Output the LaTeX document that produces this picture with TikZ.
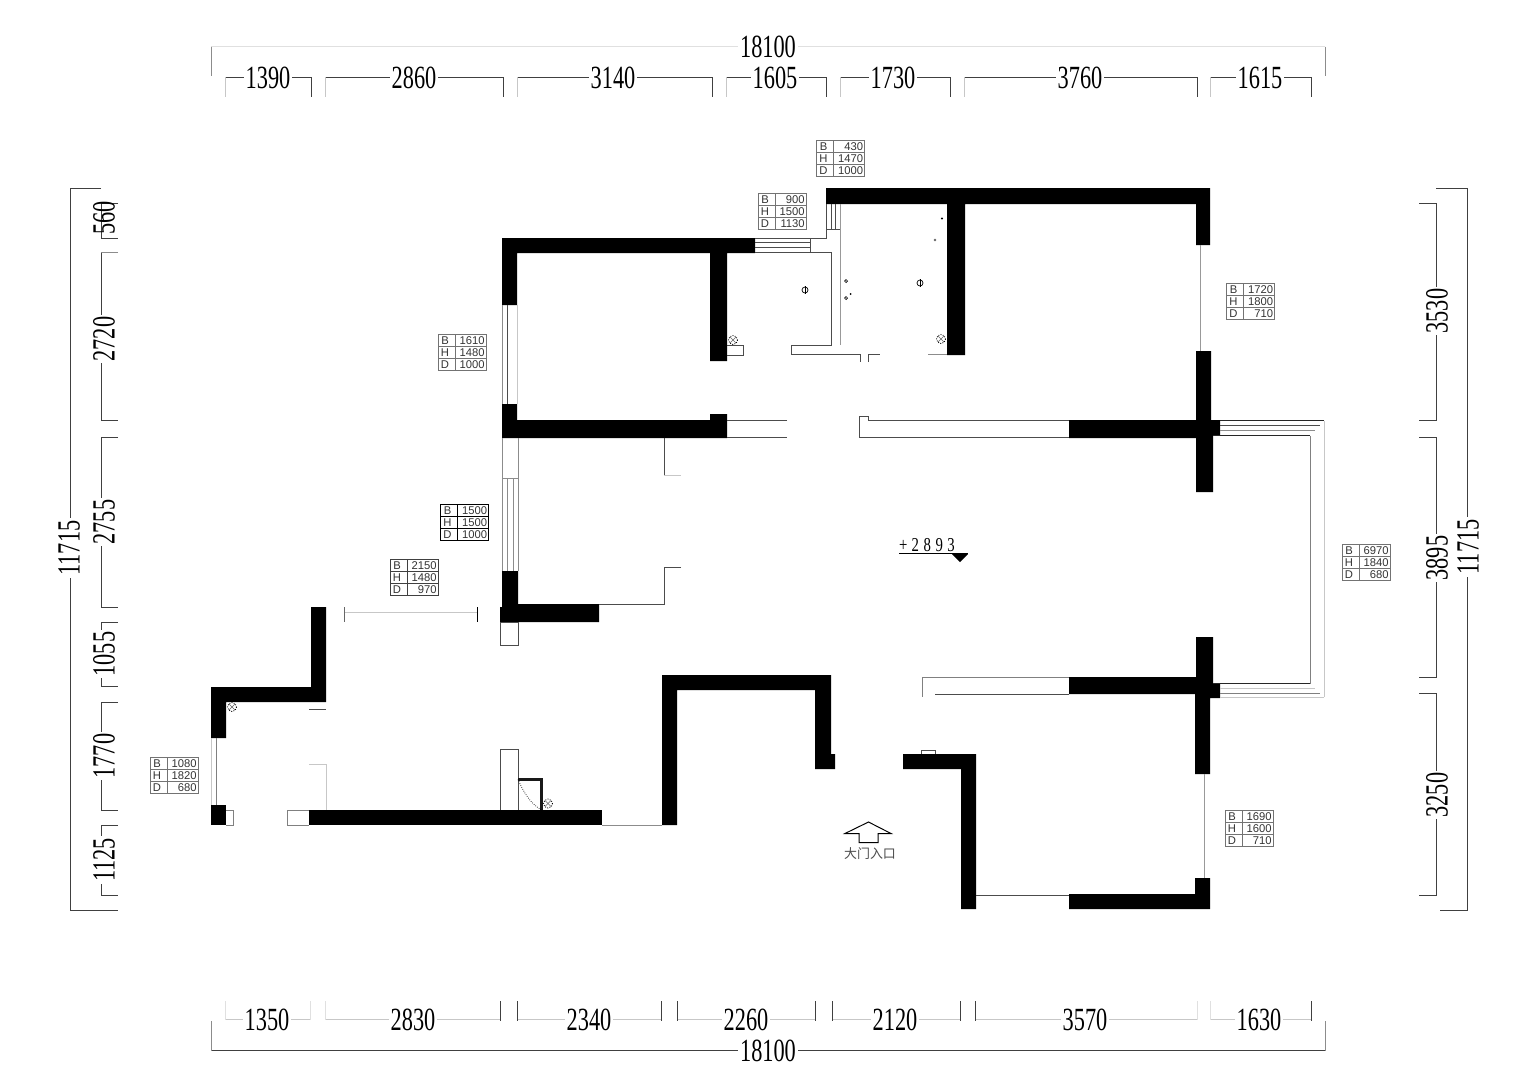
\documentclass[tikz,border=0pt]{standalone}
\usepackage{fontspec}
\usepackage{graphicx}
\setmainfont{Liberation Serif}
\setsansfont{Liberation Sans}
\newfontfamily\cjk{Noto Sans CJK SC}
\usetikzlibrary{arrows}
\newcommand{\dimfig}[1]{\scalebox{.69}[1]{#1}}
\newcommand{\wintable}[7][black!55]{%
	\begin{scope}[shift={(#3,#4)}]
		\draw [color=#1,line width=.55pt] (0,0) rectangle (48,36);
		\draw [color=#1,line width=.55pt] (0,12)-- (48,12);
		\draw [color=#1,line width=.55pt] (0,24)-- (48,24);
		\draw [color=#1,line width=.55pt] (17,0)-- (17,36);
		\node [tablabel] (#2b) at (7,6.5) {B};
		\node [tablabel] (#2h) at (7,18.5) {H};
		\node [tablabel] (#2d) at (7,30.5) {D};
		\node [tablabel,anchor=east] (#2bv) at (47,6.5) {#5};
		\node [tablabel,anchor=east] (#2hv) at (47,18.5) {#6};
		\node [tablabel,anchor=east] (#2dv) at (47,30.5) {#7};
	\end{scope}}
\tikzset{
	tablabel/.style={inner sep=0pt,color=black!80,font=\sffamily\fontsize{8}{8}\selectfont},
	dimlabel/.style={inner sep=1.5pt,fill=white,font=\fontsize{23}{23}\selectfont},
	dimline/.style={line width=.6pt,color=black!75},
	extline/.style={line width=.6pt,color=black!45},
	wall/.style={fill=black,draw=none},
	thin line/.style={line width=.7pt,color=black!70},
	pale line/.style={line width=.6pt,color=black!22}
}
\begin{document}
\begin{tikzpicture}[line cap=butt,line join=miter,x=0.025cm,y=-0.025cm]
	\useasboundingbox (0,0) rectangle (1528,1080);
	% walls
	\fill [wall] (502,238)-- (755,238)-- (755,253)-- (727,253)-- (727,361)-- (710,361)-- (710,253)-- (517,253)-- (517,305)-- (502,305)-- cycle;
	\fill [wall] (826,188)-- (1210,188)-- (1210,245)-- (1196,245)-- (1196,204)-- (965,204)-- (965,355)-- (947,355)-- (947,204)-- (826,204)-- cycle;
	\fill [wall] (502,404)-- (517,404)-- (517,420)-- (710,420)-- (710,414)-- (727,414)-- (727,438)-- (502,438)-- cycle;
	\fill [wall] (1196,351)-- (1211,351)-- (1211,420)-- (1220,420)-- (1220,435)-- (1213,435)-- (1213,492)-- (1196,492)-- (1196,438)-- (1069,438)-- (1069,420)-- (1196,420)-- cycle;
	\fill [wall] (1196,637)-- (1213,637)-- (1213,683)-- (1220,683)-- (1220,698)-- (1210,698)-- (1210,774)-- (1195,774)-- (1195,694)-- (1069,694)-- (1069,677)-- (1196,677)-- cycle;
	\fill [wall] (502,571)-- (518,571)-- (518,604)-- (599,604)-- (599,622)-- (500,622)-- (500,607)-- (502,607)-- cycle;
	\fill [wall] (311,607)-- (326,607)-- (326,702)-- (226,702)-- (226,738)-- (211,738)-- (211,687)-- (311,687)-- cycle;
	\fill [wall] (211,805) rectangle (226,825);
	\fill [wall] (309,810) rectangle (602,825);
	\fill [wall] (662,825)-- (662,675)-- (831,675)-- (831,754)-- (835,754)-- (835,769)-- (815,769)-- (815,690)-- (677,690)-- (677,825)-- cycle;
	\fill [wall] (903,754)-- (976,754)-- (976,909)-- (961,909)-- (961,769)-- (903,769)-- cycle;
	\fill [wall] (1069,894)-- (1195,894)-- (1195,878)-- (1210,878)-- (1210,909)-- (1069,909)-- cycle;
	% top entry and rooms
	\draw [thin line] (755,238)-- (826,238)-- (826,204);
	\draw [thin line] (755,242.5)-- (810,242.5);
	\draw [thin line] (755,247.5)-- (810,247.5);
	\draw [thin line] (810,238)-- (810,252);
	\draw [thin line] (755,252.5)-- (831,252.5)-- (831,345)-- (791,345)-- (791,354)-- (860,354)-- (860,362);
	\draw [thin line] (831,204)-- (831,229);
	\draw [thin line] (835.5,204)-- (835.5,229);
	\draw [thin line] (826,229)-- (840,229);
	\draw [line width=.6pt,color=black!40] (840,204)-- (840,345);
	\draw [thin line] (868,362)-- (868,354)-- (880,354);
	\draw [line width=.6pt,color=black!45] (928,354)-- (947,354);
	\draw [thin line] (727,345)-- (743,345)-- (743,355)-- (727,355);
	\draw [line width=.5pt] (805,290) circle (3);
	\draw [line width=.5pt] (805,286)-- (805,294);
	\draw [line width=.5pt] (920,283) circle (3);
	\draw [line width=.5pt] (920,279)-- (920,287);
	\draw [line width=.5pt] (846,281) circle (1.5);
	\draw [line width=.5pt] (846,298) circle (1.5);
	\fill (850.5,294) circle (1);
	\fill (942,218.5) circle (1.2);
	\fill [black!60] (935,240) circle (1.3);
	% windows on the left wall
	\draw [line width=.6pt,color=black!45] (502.5,305)-- (502.5,404);
	\draw [thin line] (507.5,305)-- (507.5,404);
	\draw [pale line] (517.5,305)-- (517.5,404);
	\draw [line width=.6pt,color=black!45] (502.5,438)-- (502.5,571);
	\draw [line width=.6pt,color=black!45] (518.5,438)-- (518.5,571);
	\draw [line width=.6pt,color=black!45] (502.5,478)-- (518.5,478);
	\draw [line width=.6pt,color=black!45] (507.5,478)-- (507.5,571);
	\draw [line width=.6pt,color=black!45] (513,478)-- (513,571);
	\draw [thin line] (500.5,622) rectangle (518,645);
	% partitions in the middle
	\draw [thin line] (664,438)-- (664,475.5);
	\draw [pale line] (664,475.5)-- (681,475.5);
	\draw [thin line] (681,567)-- (664,567)-- (664,604)-- (599,604);
	\draw [thin line] (787,420.5)-- (727,420.5);
	\draw [thin line] (727,437.5)-- (787,437.5);
	\draw [thin line] (1069,420.5)-- (868,420.5)-- (868,416)-- (859.5,416)-- (859.5,437.5)-- (1069,437.5);
	\draw [line width=.6pt,color=black!50] (1069,677.5)-- (922,677.5)-- (922,697);
	\draw [thin line] (935,694)-- (1069,694);
	\draw [thin line] (921,754)-- (921,750.5)-- (935,750.5)-- (935,754);
	% balcony
	\draw [line width=.7pt,color=black!85] (1220,420.5)-- (1324,420.5);
	\draw [thin line] (1220,425.5)-- (1320,425.5);
	\draw [line width=.6pt,color=black!45] (1220,430.5)-- (1315,430.5);
	\draw [line width=.7pt,color=black!85] (1213,435.5)-- (1310,435.5);
	\draw [line width=.7pt,color=black!50] (1310,435.5)-- (1310,683.5);
	\draw [line width=.7pt,color=black!85] (1310,683.5)-- (1213,683.5);
	\draw [pale line] (1220,688.5)-- (1315,688.5);
	\draw [line width=.6pt,color=black!50] (1220,693.5)-- (1320,693.5);
	\draw [pale line] (1324,420.5)-- (1324,697);
	\draw [pale line] (1220,697)-- (1324,697);
	% right side windows
	\draw [line width=.6pt,color=black!40] (1200.5,245)-- (1200.5,351);
	\draw [line width=.6pt,color=black!40] (1204.5,774)-- (1204.5,878);
	\draw [thin line] (976,895)-- (1069,895);
	% lower left
	\draw [line width=.6pt,color=black!45] (602,825)-- (662,825);
	\draw [pale line] (344,612)-- (477,612);
	\draw [line width=.6pt,color=black!60] (344,607)-- (344,622);
	\draw [line width=.7pt] (477.5,607)-- (477.5,622);
	\draw [thin line] (309,709.5)-- (326,709.5);
	\draw [pale line] (309,764.5)-- (326,764.5)-- (326,810);
	\draw [pale line] (211.5,738)-- (211.5,805);
	\draw [line width=.6pt,color=black!50] (216.5,738)-- (216.5,805);
	\draw [line width=.6pt,color=black!50] (226,810)-- (233,810)-- (233,825)-- (226,825);
	\draw [line width=.6pt,color=black!50] (309,810)-- (287.5,810)-- (287.5,825)-- (309,825);
	\draw [thin line] (500.5,810)-- (500.5,749.5)-- (518,749.5)-- (518,810);
	\draw [line width=1.6pt,color=black!90] (518,779.5)-- (541.5,779.5)-- (541.5,810);
	\draw [densely dotted,line width=.5pt] (518,779.5) .. controls (524,793) and (530,803) .. (541.5,810);
	% floor drains
	\draw [densely dotted,line width=.6pt] (232,707) circle (4.5);
	\draw [line width=.4pt,color=black!60] (229,704)-- (235,710);
	\draw [line width=.4pt,color=black!60] (229,710)-- (235,704);
	\draw [densely dotted,line width=.6pt] (548,803.5) circle (4.5);
	\draw [line width=.4pt,color=black!60] (545,800.5)-- (551,806.5);
	\draw [line width=.4pt,color=black!60] (545,806.5)-- (551,800.5);
	\draw [densely dotted,line width=.6pt] (733,340) circle (4.5);
	\draw [line width=.4pt,color=black!60] (730,337)-- (736,343);
	\draw [line width=.4pt,color=black!60] (730,343)-- (736,337);
	\draw [densely dotted,line width=.6pt] (941,339) circle (4.5);
	\draw [line width=.4pt,color=black!60] (938,336)-- (944,342);
	\draw [line width=.4pt,color=black!60] (938,342)-- (944,336);
	% entrance and level mark
	\draw [line width=.7pt] (868.5,822)-- (845,833.5)-- (859,833.5)-- (859,842.5)-- (878,842.5)-- (878,833.5)-- (891,833.5)-- cycle;
	\node [inner sep=0pt,color=black!70,font=\cjk\fontsize{9.2}{9.2}\selectfont] (entrance) at (870,854) {大门入口};
	\node [inner sep=0pt,font=\fontsize{14}{14}\selectfont] (level) at (927,545) {\scalebox{.75}[1]{+\kern4pt 2\kern4.3pt 8\kern4.3pt 9\kern4.3pt 3}};
	\draw [line width=.7pt] (899,553.5)-- (968,553.5);
	\fill (952,554)-- (968,554)-- (960,562)-- cycle;
	% window tables
	\wintable{wa}{816.5}{140}{430}{1470}{1000}
	\wintable{wb}{758}{193}{900}{1500}{1130}
	\wintable{wc}{438}{334}{1610}{1480}{1000}
	\wintable[black]{wd}{440.5}{504}{1500}{1500}{1000}
	\wintable[black!75]{we}{390}{559}{2150}{1480}{970}
	\wintable{wf}{1226.5}{283}{1720}{1800}{710}
	\wintable{wg}{1342}{544}{6970}{1840}{680}
	\wintable{wh}{1225}{810}{1690}{1600}{710}
	\wintable{wi}{150}{757}{1080}{1820}{680}
	% top dimensions
	\draw [line width=.6pt,color=black!12] (211,46.5)-- (1325,46.5);
	\draw [extline] (211,46.5)-- (211,76);
	\draw [extline] (1325,46.5)-- (1325,76);
	\node [dimlabel] (topall) at (768,47) {\dimfig{18100}};
	\draw [dimline] (225,77)-- (311,77)-- (311,97);
	\draw [pale line] (225,77)-- (225,97);
	\node [dimlabel] (topa) at (268,78) {\dimfig{1390}};
	\draw [dimline] (325,77)-- (503,77)-- (503,97);
	\draw [pale line] (325,77)-- (325,97);
	\node [dimlabel] (topb) at (414,78) {\dimfig{2860}};
	\draw [dimline] (517,77)-- (712,77)-- (712,97);
	\draw [pale line] (517,77)-- (517,97);
	\node [dimlabel] (topc) at (613,78) {\dimfig{3140}};
	\draw [dimline] (726,77)-- (826,77)-- (826,97);
	\draw [pale line] (726,77)-- (726,97);
	\node [dimlabel] (topd) at (775,78) {\dimfig{1605}};
	\draw [dimline] (840,77)-- (950,77)-- (950,97);
	\draw [pale line] (840,77)-- (840,97);
	\node [dimlabel] (tope) at (893,78) {\dimfig{1730}};
	\draw [dimline] (964,77)-- (1197,77)-- (1197,97);
	\draw [pale line] (964,77)-- (964,97);
	\node [dimlabel] (topf) at (1080,78) {\dimfig{3760}};
	\draw [dimline] (1210,77)-- (1311,77)-- (1311,97);
	\draw [pale line] (1210,77)-- (1210,97);
	\node [dimlabel] (topg) at (1260,78) {\dimfig{1615}};
	% bottom dimensions
	\draw [dimline] (211,1050.5)-- (1325,1050.5);
	\draw [extline] (211,1021)-- (211,1050.5);
	\draw [extline] (1325,1021)-- (1325,1050.5);
	\node [dimlabel] (botall) at (768,1051) {\dimfig{18100}};
	\draw [pale line] (225,1019.5)-- (310,1019.5);
	\draw [line width=.6pt,color=black!12] (225,1001)-- (225,1019.5);
	\draw [line width=.6pt,color=black!12] (310,1001)-- (310,1019.5);
	\node [dimlabel] (bota) at (267,1020) {\dimfig{1350}};
	\draw [pale line] (325,1019.5)-- (500,1019.5);
	\draw [line width=.6pt,color=black!12] (325,1001)-- (325,1019.5);
	\draw [dimline] (500,1001)-- (500,1021);
	\node [dimlabel] (botb) at (413,1020) {\dimfig{2830}};
	\draw [pale line] (517,1019.5)-- (661,1019.5);
	\draw [dimline] (517,1001)-- (517,1021);
	\draw [dimline] (661,1001)-- (661,1021);
	\node [dimlabel] (botc) at (589,1020) {\dimfig{2340}};
	\draw [pale line] (677,1019.5)-- (815,1019.5);
	\draw [dimline] (677,1001)-- (677,1021);
	\draw [dimline] (815,1001)-- (815,1021);
	\node [dimlabel] (botd) at (746,1020) {\dimfig{2260}};
	\draw [pale line] (832,1019.5)-- (960,1019.5);
	\draw [dimline] (832,1001)-- (832,1021);
	\draw [dimline] (960,1001)-- (960,1021);
	\node [dimlabel] (bote) at (895,1020) {\dimfig{2120}};
	\draw [pale line] (975,1019.5)-- (1197,1019.5);
	\draw [dimline] (975,1001)-- (975,1021);
	\draw [line width=.6pt,color=black!12] (1197,1001)-- (1197,1019.5);
	\node [dimlabel] (botf) at (1085,1020) {\dimfig{3570}};
	\draw [pale line] (1210,1019.5)-- (1311,1019.5);
	\draw [line width=.6pt,color=black!12] (1210,1001)-- (1210,1019.5);
	\draw [dimline] (1311,1001)-- (1311,1021);
	\node [dimlabel] (botg) at (1259,1020) {\dimfig{1630}};
	% left dimensions
	\draw [dimline] (101,188)-- (70,188)-- (70,910)-- (118,910);
	\node [dimlabel,rotate=90] (leftall) at (69,548) {\dimfig{11715}};
	\draw [dimline] (118,203.5)-- (101,203.5)-- (101,238)-- (118,238);
	\node [dimlabel,rotate=90,fill=none] (lefta) at (104,218) {\dimfig{560}};
	\draw [extline] (118,252.5)-- (101,252.5);
	\draw [dimline] (101,252.5)-- (101,420)-- (118,420);
	\node [dimlabel,rotate=90] (leftb) at (104,339) {\dimfig{2720}};
	\draw [dimline] (118,437)-- (101,437)-- (101,607)-- (118,607);
	\node [dimlabel,rotate=90] (leftc) at (104,522) {\dimfig{2755}};
	\draw [dimline] (118,622)-- (101,622)-- (101,686)-- (118,686);
	\node [dimlabel,rotate=90] (leftd) at (104,654) {\dimfig{1055}};
	\draw [dimline] (118,702)-- (101,702)-- (101,810)-- (118,810);
	\node [dimlabel,rotate=90] (lefte) at (104,756) {\dimfig{1770}};
	\draw [dimline] (118,825)-- (101,825)-- (101,895)-- (118,895);
	\node [dimlabel,rotate=90] (leftf) at (104,860) {\dimfig{1125}};
	% right dimensions
	\draw [dimline] (1436,188)-- (1467,188)-- (1467,910)-- (1440,910);
	\node [dimlabel,rotate=90] (rightall) at (1468,547) {\dimfig{11715}};
	\draw [dimline] (1419,203.5)-- (1436,203.5)-- (1436,420)-- (1419,420);
	\node [dimlabel,rotate=90] (righta) at (1437,311) {\dimfig{3530}};
	\draw [dimline] (1419,437)-- (1436,437)-- (1436,677)-- (1419,677);
	\node [dimlabel,rotate=90] (rightb) at (1437,558) {\dimfig{3895}};
	\draw [dimline] (1419,693)-- (1436,693)-- (1436,895)-- (1419,895);
	\node [dimlabel,rotate=90] (rightc) at (1437,795) {\dimfig{3250}};
\end{tikzpicture}
\end{document}
